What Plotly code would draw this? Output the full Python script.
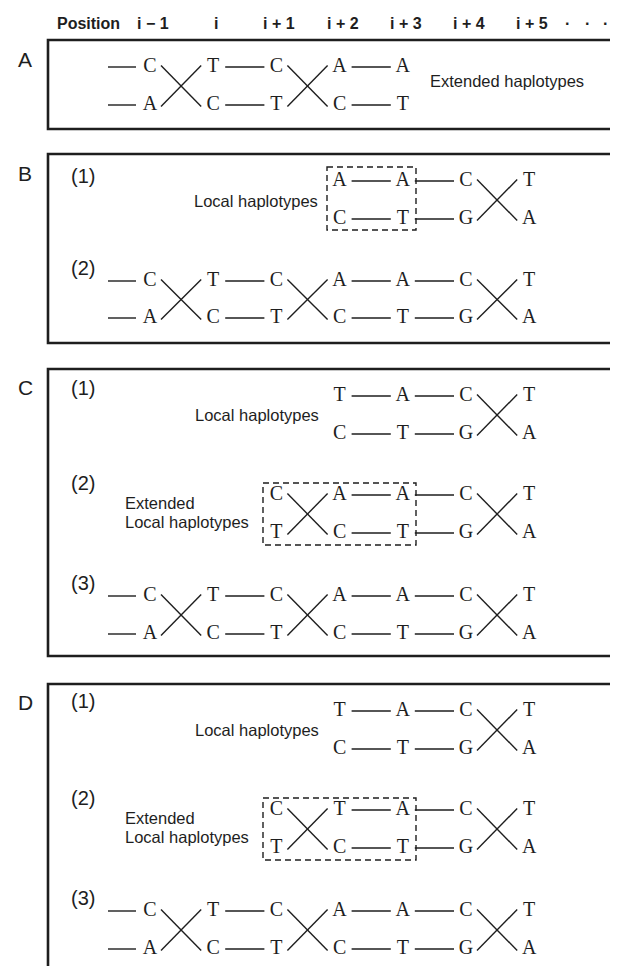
import plotly.graph_objects as go

# ---------------- data (alleles per position) ----------------
positions = ["i \u2212 1", "i", "i + 1", "i + 2", "i + 3", "i + 4", "i + 5"]
panel_labels = ["A", "B", "C", "D"]
sub_labels = ["(1)", "(2)", "(3)"]

# panel A: extended haplotypes, positions i-1 .. i+3
A_top = ["C", "T", "C", "A", "A"]
A_bot = ["A", "C", "T", "C", "T"]
A_links = ["x", "-", "x", "-"]

# full haplotypes, positions i-1 .. i+5
full_top = ["C", "T", "C", "A", "A", "C", "T"]
full_bot = ["A", "C", "T", "C", "T", "G", "A"]
full_links = ["x", "-", "x", "-", "-", "x"]

# B(1): positions i+2 .. i+5
B1_top = ["A", "A", "C", "T"]
B1_bot = ["C", "T", "G", "A"]
B1_links = ["-", "-", "x"]

# C(1), D(1): local haplotypes, positions i+2 .. i+5
local_top = ["T", "A", "C", "T"]
local_bot = ["C", "T", "G", "A"]
local_links = ["-", "-", "x"]

# C(2): positions i+1 .. i+5
C2_top = ["C", "A", "A", "C", "T"]
C2_bot = ["T", "C", "T", "G", "A"]
C2_links = ["x", "-", "-", "x"]

# D(2): positions i+1 .. i+5
D2_top = ["C", "T", "A", "C", "T"]
D2_bot = ["T", "C", "T", "G", "A"]
D2_links = ["x", "-", "-", "x"]

# ---------------- layout helpers ----------------
W, H = 618, 966
COL0, STEP = 142.0, 63.2          # pixel x of column 0 and spacing


def px(p):
    return (p - COL0) / STEP


INK = "#1e1e1e"

# (start column, top, bottom, links, lead dash, y top row, y bottom row)
rows = [
    (0, A_top, A_bot, A_links, True, 59, 97),
    (3, B1_top, B1_bot, B1_links, False, 173, 211),
    (0, full_top, full_bot, full_links, True, 273, 310),
    (3, local_top, local_bot, local_links, False, 388, 426),
    (2, C2_top, C2_bot, C2_links, False, 487, 525),
    (0, full_top, full_bot, full_links, True, 588, 626),
    (3, local_top, local_bot, local_links, False, 703, 741),
    (2, D2_top, D2_bot, D2_links, False, 802, 840),
    (0, full_top, full_bot, full_links, True, 903, 941),
]

lx, ly, lt = [], [], []
sx, sy = [], []
for start, top, bot, links, lead, yt, yb in rows:
    for k, (a, b) in enumerate(zip(top, bot)):
        c = start + k
        lx += [c, c]
        ly += [yt, yb]
        lt += [a, b]
    if lead:
        for y in (yt, yb):
            sx += [start - 42 / STEP, start - 14 / STEP, None]
            sy += [y, y, None]
    for k, kind in enumerate(links):
        a = start + k
        b = a + 1
        if kind == "-":
            for y in (yt, yb):
                sx += [a + 12 / STEP, b - 12 / STEP, None]
                sy += [y, y, None]
        else:
            x0, x1 = a + 11 / STEP, b - 12 / STEP
            sx += [x0, x1, None, x0, x1, None]
            sy += [yt - 1.5, yb + 1.5, None, yb + 1.5, yt - 1.5, None]

fig = go.Figure()
fig.add_trace(go.Scatter(x=sx, y=sy, mode="lines",
                         line=dict(color=INK, width=1.4),
                         hoverinfo="skip", showlegend=False))
fig.add_trace(go.Scatter(x=lx, y=ly, mode="text", text=lt,
                         textposition="middle center",
                         textfont=dict(family="Liberation Serif", size=20, color=INK),
                         hoverinfo="skip", showlegend=False))

shapes = []
# panel boxes (layout)
for y0, y1 in [(32, 121), (146, 335), (361, 648), (676, 963)]:
    shapes.append(dict(type="rect", xref="x", yref="y", x0=px(40), x1=px(624),
                       y0=y0, y1=y1, line=dict(color=INK, width=2.6)))
# dashed boxes
for x0, x1, y0, y1 in [(319, 408, 159, 222), (255, 408, 475, 537), (255, 408, 790, 852)]:
    shapes.append(dict(type="rect", xref="x", yref="y", x0=px(x0), x1=px(x1),
                       y0=y0, y1=y1, line=dict(color=INK, width=1.4, dash="6px,4px")))

ann = []


def text(x, y, s, size=16.5, anchor="center", bold=False, family="Liberation Sans"):
    ann.append(dict(x=px(x), y=y, xref="x", yref="y", text=("<b>%s</b>" % s) if bold else s,
                    showarrow=False, xanchor=anchor, yanchor="middle",
                    font=dict(family=family, size=size, color=INK)))


# header
text(47, 15, "Position", size=16, anchor="left", bold=True)
for k, lab in enumerate(positions):
    ann.append(dict(x=k, y=15, xref="x", yref="y", text="<b>%s</b>" % lab, showarrow=False,
                    xshift=3, xanchor="center", yanchor="middle",
                    font=dict(family="Liberation Sans", size=16, color=INK)))
for xd in (559, 579, 597):
    text(xd, 15, "\u00b7", size=16, bold=True)

# panel letters
for lab, y in zip(panel_labels, [51, 165, 379, 694]):
    text(17, y, lab, size=21)

# sub labels
for lab, y in zip(["(1)", "(2)"], [168, 260]):
    text(75, y, lab, size=20)
for lab, y in zip(sub_labels, [380, 475, 575]):
    text(75, y, lab, size=20)
for lab, y in zip(sub_labels, [693, 790, 890]):
    text(75, y, lab, size=20)

# descriptive labels
text(420, 73, "Extended haplotypes", anchor="left")
text(312, 193, "Local haplotypes", anchor="right")
text(185, 407, "Local haplotypes", anchor="left")
text(115, 495, "Extended", anchor="left")
text(115, 514, "Local haplotypes", anchor="left")
text(185, 722, "Local haplotypes", anchor="left")
text(115, 810, "Extended", anchor="left")
text(115, 829, "Local haplotypes", anchor="left")

fig.update_layout(
    width=W, height=H,
    margin=dict(l=0, r=0, t=0, b=0),
    paper_bgcolor="white", plot_bgcolor="white",
    xaxis=dict(range=[px(0), px(W)], visible=False, fixedrange=True),
    yaxis=dict(range=[H, 0], visible=False, fixedrange=True),
    shapes=shapes, annotations=ann,
)
fig.write_html("out.html")
